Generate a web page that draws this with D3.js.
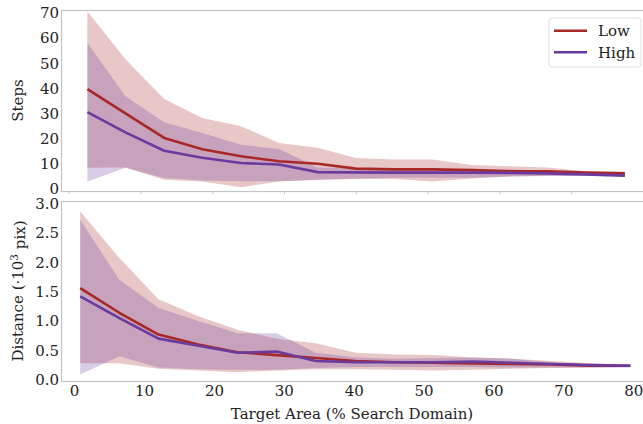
<!DOCTYPE html>
<html>
<head>
<meta charset="utf-8">
<script src="https://cdn.jsdelivr.net/npm/d3@7"></script>
<style>
  body { margin: 0; background: #fff; }
  text { font-family: "DejaVu Serif", serif; fill: #222; }
</style>
</head>
<body>
<div id="chart"></div>
<script>
// target area (% of search domain)
const stepsX = [2.6, 7.9, 13.3, 18.6, 24.0, 29.3, 34.7, 40.0, 45.4, 50.7, 56.1, 61.4, 66.8, 72.1, 77.5];
const distX = [0.8, 6.4, 12.0, 17.7, 23.3, 28.9, 34.5, 40.2, 45.8, 51.4, 57.0, 62.6, 68.3, 73.9, 79.5];

// steps panel
const stepsLow = [39.7, 30.0, 20.3, 15.8, 13.0, 11.0, 10.0, 8.1, 7.8, 7.8, 7.5, 7.0, 7.0, 6.5, 6.2];
const stepsLowHi = [70.5, 51.5, 35.7, 28.2, 24.9, 18.3, 16.4, 12.3, 11.7, 11.7, 9.5, 9.0, 8.5, 7.0, 6.8];
const stepsLowLo = [8.4, 8.5, 3.7, 3.0, 0.7, 3.0, 3.7, 4.0, 4.0, 3.0, 4.2, 5.0, 5.3, 5.3, 5.2];
const stepsHigh = [30.5, 22.5, 15.2, 12.4, 10.3, 9.7, 6.7, 6.6, 6.5, 6.5, 6.5, 6.4, 6.2, 5.8, 5.3];
const stepsHighHi = [58.0, 36.8, 26.5, 22.2, 17.6, 15.9, 8.5, 8.0, 7.8, 7.8, 8.0, 7.8, 7.2, 6.5, 6.0];
const stepsHighLo = [3.0, 8.4, 4.4, 3.4, 3.1, 3.1, 3.7, 4.2, 4.5, 4.5, 4.5, 5.0, 5.2, 5.2, 5.0];

// distance panel (10^3 pix)
const distLow = [1.56, 1.14, 0.77, 0.60, 0.47, 0.42, 0.37, 0.32, 0.30, 0.29, 0.28, 0.27, 0.26, 0.24, 0.24];
const distLowHi = [2.86, 2.07, 1.37, 1.08, 0.85, 0.70, 0.62, 0.46, 0.43, 0.42, 0.38, 0.36, 0.32, 0.28, 0.25];
const distLowLo = [0.28, 0.28, 0.19, 0.16, 0.13, 0.16, 0.18, 0.18, 0.17, 0.16, 0.17, 0.19, 0.20, 0.21, 0.22];
const distHigh = [1.42, 1.05, 0.70, 0.58, 0.46, 0.48, 0.32, 0.30, 0.30, 0.30, 0.31, 0.29, 0.27, 0.25, 0.24];
const distHighHi = [2.72, 1.70, 1.22, 1.00, 0.79, 0.79, 0.46, 0.38, 0.36, 0.37, 0.38, 0.36, 0.30, 0.26, 0.24];
const distHighLo = [0.09, 0.40, 0.21, 0.18, 0.17, 0.17, 0.20, 0.22, 0.22, 0.22, 0.22, 0.21, 0.21, 0.21, 0.21];

const xTicks = [0, 10, 20, 30, 40, 50, 60, 70, 80];
const stepsTicks = [0, 10, 20, 30, 40, 50, 60, 70];
const distTicks = [0, 0.5, 1.0, 1.5, 2.0, 2.5, 3.0];

const seriesNames = ["Low", "High"];
const lowColor = "#a82828";
const highColor = "#6a3a9e";

const width = 643, height = 424;
const left = 61, right = 645;
const spineColor = "#c4c4c4";

const svg = d3.select("#chart").append("svg")
    .attr("width", width)
    .attr("height", height);

function drawPanel(cfg) {
    const x = d3.scaleLinear().domain(cfg.xDomain).range([left, right]);
    const y = d3.scaleLinear().domain(cfg.yDomain).range([cfg.bottom, cfg.top]);
    const g = svg.append("g");

    const series = [
        { mean: cfg.low, hi: cfg.lowHi, lo: cfg.lowLo, color: lowColor },
        { mean: cfg.high, hi: cfg.highHi, lo: cfg.highLo, color: highColor }
    ];

    // bands first
    series.forEach(s => {
        const area = d3.area()
            .x((d, i) => x(cfg.xs[i]))
            .y0((d, i) => y(s.lo[i]))
            .y1((d, i) => y(s.hi[i]));
        g.append("path")
            .datum(s.mean)
            .attr("d", area)
            .attr("fill", s.color)
            .attr("fill-opacity", 0.26);
    });

    series.forEach(s => {
        const line = d3.line()
            .x((d, i) => x(cfg.xs[i]))
            .y(d => y(d));
        g.append("path")
            .datum(s.mean)
            .attr("d", line)
            .attr("fill", "none")
            .attr("stroke", s.color)
            .attr("stroke-width", 2.6)
            .attr("stroke-linejoin", "round");
    });

    // spines
    g.append("rect")
        .attr("x", left + 0.5)
        .attr("y", cfg.top + 0.5)
        .attr("width", right - left)
        .attr("height", cfg.bottom - cfg.top)
        .attr("fill", "none")
        .attr("stroke", spineColor)
        .attr("stroke-width", 1.2);

    // y ticks
    g.append("g").selectAll("text")
        .data(cfg.yTicks)
        .enter().append("text")
        .attr("x", left - 2)
        .attr("y", d => y(d))
        .attr("dy", "0.36em")
        .attr("text-anchor", "end")
        .style("font-size", "15px")
        .text(cfg.yFormat);

    // y label
    const label = g.append("text")
        .attr("transform", "translate(23," + ((cfg.top + cfg.bottom) / 2) + ") rotate(-90)")
        .attr("text-anchor", "middle")
        .style("font-size", "15px");
    cfg.yLabel(label);

    return { x, y, g };
}

const stepsPanel = drawPanel({
    xs: stepsX, xDomain: [-1.08, 80.3], yDomain: [-0.8, 71.1],
    top: 10, bottom: 191,
    low: stepsLow, lowHi: stepsLowHi, lowLo: stepsLowLo,
    high: stepsHigh, highHi: stepsHighHi, highLo: stepsHighLo,
    yTicks: stepsTicks, yFormat: d3.format("d"),
    yLabel: t => t.text("Steps")
});

// small tick marks under the steps panel (labels hidden)
stepsPanel.g.append("g").selectAll("line")
    .data(xTicks)
    .enter().append("line")
    .attr("x1", d => stepsPanel.x(d) + 0.5)
    .attr("x2", d => stepsPanel.x(d) + 0.5)
    .attr("y1", 191)
    .attr("y2", 194)
    .attr("stroke", spineColor);

const distPanel = drawPanel({
    xs: distX, xDomain: [-1.95, 81.6], yDomain: [-0.02, 3.04],
    top: 201, bottom: 381,
    low: distLow, lowHi: distLowHi, lowLo: distLowLo,
    high: distHigh, highHi: distHighHi, highLo: distHighLo,
    yTicks: distTicks, yFormat: d3.format(".1f"),
    yLabel: t => {
        t.append("tspan").text("Distance (\u00b710");
        t.append("tspan").attr("dy", "-0.45em").style("font-size", "10.5px").text("3");
        t.append("tspan").attr("dy", "0.45em").text(" pix)");
    }
});

distPanel.g.append("g").selectAll("text")
    .data(xTicks)
    .enter().append("text")
    .attr("x", d => distPanel.x(d))
    .attr("y", 396)
    .attr("text-anchor", "middle")
    .style("font-size", "15px")
    .text(d3.format("d"));

svg.append("text")
    .attr("x", 352)
    .attr("y", 419)
    .attr("text-anchor", "middle")
    .style("font-size", "15px")
    .text("Target Area (% Search Domain)");

// legend
const legend = svg.append("g").attr("transform", "translate(549,18)");
legend.append("rect")
    .attr("width", 92)
    .attr("height", 49)
    .attr("rx", 3)
    .attr("fill", "#fff")
    .attr("fill-opacity", 0.8)
    .attr("stroke", "#e0e0e0");
seriesNames.forEach((name, i) => {
    const yy = 12.7 + i * 21.6;
    legend.append("line")
        .attr("x1", 5).attr("x2", 38)
        .attr("y1", yy).attr("y2", yy)
        .attr("stroke", i == 0 ? lowColor : highColor)
        .attr("stroke-width", 2.6);
    legend.append("text")
        .attr("x", 49)
        .attr("y", yy)
        .attr("dy", "0.36em")
        .style("font-size", "15px")
        .text(name);
});
</script>
</body>
</html>
